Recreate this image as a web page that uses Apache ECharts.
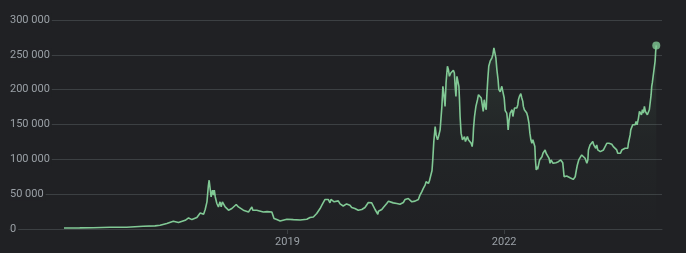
<!DOCTYPE html>
<html>
<head>
<meta charset="utf-8">
<style>
html,body{margin:0;padding:0;background:#202124;}
#chart{width:686px;height:253px;}
</style>
<script src="https://cdn.jsdelivr.net/npm/echarts@6/dist/echarts.min.js"></script>
</head>
<body>
<div id="chart"></div>
<script>
const dates = [
'2015-11-28','2016-02-16','2016-04-24','2016-07-18','2016-10-10','2017-01-01','2017-03-02','2017-03-28','2017-05-01','2017-06-03',
'2017-06-29','2017-07-07','2017-08-02','2017-08-19','2017-09-05','2017-09-13','2017-09-30','2017-10-17','2017-10-26','2017-11-03',
'2017-11-11','2017-11-20','2017-11-27','2017-12-01','2017-12-06','2017-12-11','2017-12-18','2017-12-23','2017-12-27','2018-01-01',
'2018-01-09','2018-01-17','2018-01-25','2018-01-31','2018-02-06','2018-02-15','2018-02-20','2018-03-01','2018-03-09','2018-03-17',
'2018-03-26','2018-04-03','2018-04-17','2018-04-28','2018-05-07','2018-05-23','2018-06-01','2018-06-18','2018-06-26','2018-07-05',
'2018-07-10','2018-07-16','2018-07-30','2018-08-07','2018-09-01','2018-09-20','2018-10-14','2018-10-19','2018-10-25','2018-11-08',
'2018-11-25','2018-12-04','2018-12-29','2019-01-31','2019-03-06','2019-04-09','2019-04-25','2019-05-12','2019-05-29','2019-06-15',
'2019-06-24','2019-07-02','2019-07-10','2019-07-18','2019-07-26','2019-08-04','2019-08-09','2019-08-18','2019-08-25','2019-09-04',
'2019-09-15','2019-09-24','2019-10-10','2019-10-19','2019-10-27','2019-11-04','2019-11-13','2019-11-22','2019-11-30','2019-12-08',
'2019-12-25','2020-01-12','2020-01-28','2020-02-14','2020-03-02','2020-03-10','2020-03-19','2020-04-02','2020-04-05','2020-04-13',
'2020-04-22','2020-04-30','2020-05-08','2020-05-17','2020-05-26','2020-06-03','2020-06-19','2020-07-07','2020-07-23','2020-08-09',
'2020-08-18','2020-08-26','2020-09-03','2020-09-12','2020-09-21','2020-09-29','2020-10-07','2020-10-16','2020-10-24','2020-11-01',
'2020-11-10','2020-11-18','2020-11-27','2020-12-02','2020-12-09','2020-12-14','2020-12-19','2020-12-26','2021-01-01','2021-01-05',
'2021-01-10','2021-01-17','2021-01-22','2021-01-29','2021-02-03','2021-02-11','2021-02-20','2021-02-25','2021-03-03','2021-03-08',
'2021-03-13','2021-03-17','2021-03-20','2021-03-25','2021-03-30','2021-04-06','2021-04-11','2021-04-16','2021-04-19','2021-04-24',
'2021-04-28','2021-05-02','2021-05-07','2021-05-12','2021-05-17','2021-05-20','2021-05-23','2021-05-28','2021-06-04','2021-06-09',
'2021-06-14','2021-06-19','2021-06-24','2021-06-29','2021-07-04','2021-07-09','2021-07-13','2021-07-18','2021-07-23','2021-07-27',
'2021-07-30','2021-08-04','2021-08-11','2021-08-19','2021-08-24','2021-09-02','2021-09-07','2021-09-12','2021-09-17','2021-09-22',
'2021-09-27','2021-10-02','2021-10-05','2021-10-10','2021-10-15','2021-10-22','2021-10-31','2021-11-05','2021-11-10','2021-11-15',
'2021-11-20','2021-11-25','2021-12-01','2021-12-05','2021-12-12','2021-12-20','2021-12-25','2022-01-01','2022-01-06','2022-01-11',
'2022-01-14','2022-01-17','2022-01-21','2022-01-26','2022-01-31','2022-02-05','2022-02-10','2022-02-14','2022-02-17','2022-02-22',
'2022-02-25','2022-03-02','2022-03-06','2022-03-11','2022-03-14','2022-03-19','2022-03-26','2022-03-31','2022-04-05','2022-04-08',
'2022-04-13','2022-04-18','2022-04-25','2022-04-30','2022-05-06','2022-05-11','2022-05-16','2022-05-21','2022-05-26','2022-05-31',
'2022-06-05','2022-06-08','2022-06-12','2022-06-16','2022-06-19','2022-06-24','2022-06-29','2022-07-04','2022-07-11','2022-07-16',
'2022-07-19','2022-07-24','2022-07-27','2022-08-01','2022-08-07','2022-08-11','2022-08-16','2022-08-21','2022-08-26','2022-08-31',
'2022-09-05','2022-09-10','2022-09-15','2022-09-20','2022-09-27','2022-10-02','2022-10-07','2022-10-14','2022-10-19','2022-10-24',
'2022-10-27','2022-10-31','2022-11-06','2022-11-13','2022-11-21','2022-11-30','2022-12-08','2022-12-16','2022-12-23','2022-12-26',
'2023-01-01','2023-01-06','2023-01-13','2023-01-20','2023-01-28','2023-02-05','2023-02-14','2023-02-23','2023-02-28','2023-03-03',
'2023-03-11','2023-03-20','2023-03-25','2023-03-30','2023-04-04','2023-04-09','2023-04-14','2023-04-19','2023-04-26','2023-05-02',
'2023-05-09','2023-05-18','2023-05-26','2023-06-04','2023-06-09','2023-06-15','2023-06-22','2023-06-29','2023-07-07','2023-07-16',
'2023-07-24','2023-07-29','2023-08-05','2023-08-12','2023-08-19','2023-08-27','2023-09-04','2023-09-13','2023-09-18','2023-09-21',
'2023-09-26','2023-09-30','2023-10-03','2023-10-08','2023-10-13','2023-10-18','2023-10-25','2023-10-30','2023-11-04','2023-11-11',
'2023-11-16','2023-11-21','2023-11-26','2023-12-01','2023-12-06','2023-12-11','2023-12-16','2023-12-21','2023-12-26','2023-12-31',
'2024-01-05','2024-01-10','2024-01-14','2024-01-17','2024-01-20','2024-01-25','2024-01-30','2024-02-03','2024-02-06','2024-02-09'
];
const prices = [
1500,1600,1800,2500,2600,3900,4500,5300,7800,11000,
9200,8700,12500,15900,13500,12500,16400,23000,24500,21200,
28000,39000,62000,70000,58000,46000,55800,48600,55800,46000,
36600,31700,39000,31700,39000,36600,31700,29400,27000,24500,
29400,31700,35200,31700,29400,27000,24500,24500,27000,31700,
27000,24500,27000,24500,24500,25000,24500,22200,15000,13500,
11500,13500,14000,13500,13000,14000,16400,17300,22200,29400,
34200,35200,42400,43800,42400,37500,42400,41400,39000,41400,
40400,36000,33000,32000,36000,35000,34200,30900,30000,29400,
27000,28000,30900,38000,37500,35000,28000,21200,25500,27000,
28000,31000,33000,36600,40000,39000,37500,36600,35600,38000,
42400,44700,43800,41400,39000,41400,40000,40400,42400,48600,
53400,58300,63000,67800,70200,65500,69200,71200,84000,100000,
125000,147000,135000,128000,132700,142300,176000,204800,190400,176000,
209700,224000,233600,228800,219200,224000,226400,221600,227800,224000,
204800,190400,219200,221600,204800,185600,161500,137600,128000,130300,
132700,125500,128000,132700,128000,130300,125500,123100,118300,128000,
144800,161500,176000,185600,192800,190400,188000,178400,168700,185600,
176000,171200,190400,214400,233600,240800,245700,250500,260100,252900,
245700,228800,214400,200000,197000,204800,197600,188000,170000,171200,
166400,158000,142300,156800,166400,168700,171200,161500,166400,173600,
176000,171200,173600,178400,185600,190400,194200,188000,183200,176000,
171200,168700,166400,161500,152000,137600,128000,123100,128000,125500,
118300,99100,84700,89400,85700,87100,99100,101500,103800,108700,
106300,111000,113500,108700,106300,106300,101500,94300,99100,96600,
94300,96600,91900,95200,94300,96600,94300,99100,96600,95200,
87100,75000,75000,76000,75000,73500,72600,71200,70200,75000,
84700,91900,99100,101500,106300,108700,101500,94300,99100,113500,
120700,123100,125500,120700,123100,115900,120700,113500,115900,111000,
113500,113500,115900,123100,125500,123100,120700,121700,118300,115900,
113500,108700,108700,108700,113500,113500,115900,118300,115900,123100,
125500,135100,142300,144800,149600,152000,149600,154300,149600,159200,
168700,171200,164000,171200,166400,176000,168700,171200,164000,166400,
171200,183200,192800,204800,209700,207300,212000,240800,255200,263500
];
const xRange = ['2015-02-28', '2024-03-09'];
const xTickDates = ['2019-01-01', '2022-01-01'];
const yTicks = [0, 50000, 100000, 150000, 200000, 250000, 300000];

function ts(s) { const p = s.split('-').map(Number); return Date.UTC(p[0], p[1] - 1, p[2]); }
function fmt(v) { return String(v).replace(/\B(?=(\d{3})+(?!\d))/g, ' '); }

const seriesData = dates.map((d, i) => [ts(d), prices[i]]);
const last = seriesData[seriesData.length - 1];
const green = '#81c995';
const tickTs = xTickDates.map(ts);

const chart = echarts.init(document.getElementById('chart'), null, { renderer: 'canvas' });
chart.setOption({
  backgroundColor: '#202124',
  animation: false,
  textStyle: { fontFamily: 'Roboto, sans-serif' },
  grid: { left: 10, right: 24, top: 20, bottom: 24, containLabel: false },
  xAxis: {
    type: 'value',
    min: ts(xRange[0]),
    max: ts(xRange[1]),
    axisLine: { show: true, lineStyle: { color: '#3c4043', width: 1 } },
    axisTick: { show: true, length: 5, lineStyle: { color: '#3c4043' }, customValues: tickTs },
    axisLabel: {
      color: '#9aa0a6', fontSize: 11, margin: 8, fontFamily: 'Roboto, sans-serif',
      customValues: tickTs,
      formatter: v => String(new Date(v).getUTCFullYear())
    },
    splitLine: { show: false }
  },
  yAxis: {
    type: 'value',
    min: yTicks[0],
    max: yTicks[yTicks.length - 1],
    interval: yTicks[1] - yTicks[0],
    axisLine: { show: false },
    axisTick: { show: false },
    axisLabel: {
      inside: true, margin: 0, color: '#9aa0a6', fontSize: 11, fontFamily: 'Roboto, sans-serif',
      backgroundColor: '#202124', padding: [1, 2, 1, 0],
      formatter: v => fmt(v)
    },
    splitLine: { show: true, lineStyle: { color: '#3c4043', width: 1 } }
  },
  series: [
    {
      type: 'line',
      data: seriesData,
      showSymbol: false,
      symbol: 'none',
      lineStyle: { color: green, width: 1.6 },
      itemStyle: { color: green },
      areaStyle: {
        color: new echarts.graphic.LinearGradient(0, 0, 0, 1, [
          { offset: 0, color: 'rgba(129,201,149,0.16)' },
          { offset: 0.5, color: 'rgba(129,201,149,0.04)' },
          { offset: 1, color: 'rgba(129,201,149,0)' }
        ])
      },
      z: 2
    },
    {
      type: 'scatter',
      data: [last],
      symbol: 'circle',
      symbolSize: 8,
      itemStyle: { color: green },
      z: 3
    }
  ]
});
</script>
</body>
</html>
